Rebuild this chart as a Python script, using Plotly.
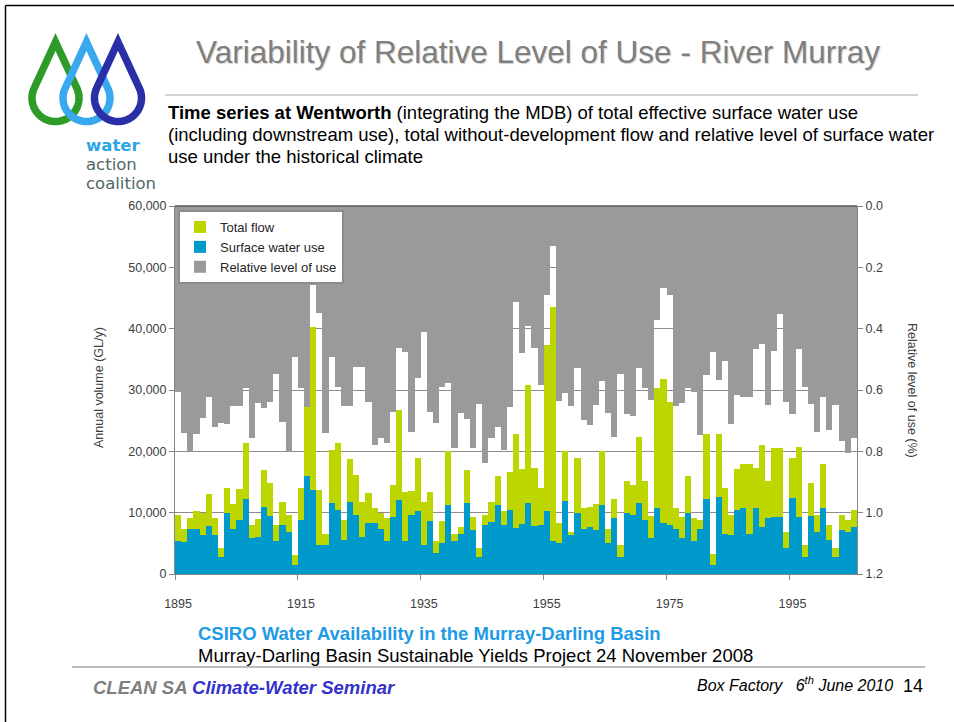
import math
import plotly.graph_objects as go

# ── Data ────────────────────────────────────────────────────────────────────

years = list(range(1895, 2006))

# Total without-development flow at Wentworth (GL/y)
total_flow = [
    9600, 7300, 9200, 10300, 9900, 13000, 9100, 4200, 14100, 11400,
    13900, 21300, 8000, 8900, 17000, 14800, 8000, 11700, 9600, 3100,
    14000, 27600, 40300, 13700, 6500, 20200, 21300, 8800, 18800, 16100,
    11800, 13200, 10700, 9900, 9100, 14500, 26700, 13400, 13500, 18900,
    11800, 13300, 5300, 8600, 20100, 6600, 7700, 17000, 9300, 4200,
    9600, 11800, 15900, 10200, 16700, 22800, 17200, 30800, 17300, 14000,
    37300, 43600, 8300, 20100, 6900, 18900, 10800, 11000, 11400, 20100,
    7300, 12300, 4700, 15100, 14500, 22400, 15100, 9500, 30300, 31800,
    28100, 10700, 9300, 15900, 9100, 8800, 22900, 3200, 22900, 14000,
    9600, 17200, 17900, 17900, 17300, 21100, 15100, 20500, 20500, 6900,
    18900, 20700, 4700, 14800, 9700, 17900, 8000, 4200, 9600, 8800,
    10400,
]

# Total effective surface water use (GL/y)
surface_use = [
    5400, 5200, 7300, 7300, 6400, 7800, 6400, 2800, 9900, 7300,
    8800, 12300, 5800, 6000, 10900, 9500, 5300, 8000, 6900, 1500,
    8800, 15900, 13700, 4700, 4700, 11500, 10400, 5500, 11800, 9700,
    6100, 8300, 8300, 7400, 5300, 9300, 12100, 5300, 9600, 10300,
    4700, 8600, 3500, 5000, 11300, 5300, 6600, 11500, 7200, 2700,
    8000, 8500, 11300, 8000, 10400, 7500, 8100, 11500, 7800, 8000,
    10300, 5300, 5000, 11900, 6300, 9900, 7400, 7700, 7200, 11300,
    5000, 9100, 2700, 9900, 9700, 11500, 8800, 5800, 10700, 8300,
    8000, 7400, 5900, 9900, 5300, 7300, 12300, 1500, 12500, 6600,
    6400, 10400, 10700, 6500, 10700, 7700, 9100, 9300, 9300, 4300,
    12400, 9300, 2700, 9500, 6900, 10800, 5500, 2700, 7100, 6800,
    7600,
]

# Relative level of surface water use (fraction, right axis, reversed)
relative_level = [
    0.605, 0.741, 0.799, 0.744, 0.690, 0.622, 0.722, 0.707, 0.712, 0.651,
    0.651, 0.595, 0.758, 0.641, 0.660, 0.640, 0.548, 0.703, 0.801, 0.491,
    0.595, 0.654, 0.258, 0.350, 0.741, 0.493, 0.589, 0.651, 0.651, 0.524,
    0.524, 0.638, 0.779, 0.755, 0.774, 0.673, 0.464, 0.475, 0.736, 0.562,
    0.410, 0.671, 0.709, 0.589, 0.578, 0.790, 0.676, 0.695, 0.790, 0.647,
    0.839, 0.758, 0.720, 0.796, 0.654, 0.312, 0.480, 0.391, 0.464, 0.584,
    0.290, 0.129, 0.636, 0.611, 0.651, 0.529, 0.698, 0.714, 0.649, 0.570,
    0.676, 0.754, 0.549, 0.678, 0.684, 0.529, 0.595, 0.633, 0.372, 0.268,
    0.290, 0.651, 0.644, 0.595, 0.605, 0.747, 0.551, 0.475, 0.567, 0.504,
    0.712, 0.616, 0.622, 0.624, 0.466, 0.450, 0.649, 0.472, 0.352, 0.640,
    0.678, 0.466, 0.589, 0.647, 0.736, 0.624, 0.730, 0.649, 0.766, 0.807,
    0.758,
]

year_labels = [1895, 1915, 1935, 1955, 1975, 1995]
volume_ticks = [0, 10000, 20000, 30000, 40000, 50000, 60000]
level_ticks = [0.0, 0.2, 0.4, 0.6, 0.8, 1.0, 1.2]

# ── Styling ─────────────────────────────────────────────────────────────────

FONT = "Arial, 'Liberation Sans', sans-serif"
LOGO_FONT = "'DejaVu Sans', sans-serif"
COLORS = {
    "flow": "#BED600",
    "use": "#0099CC",
    "level": "#9A9A9A",
    "axis": "#868686",
    "tick": "#404040",
    "rule": "#A6A6A6",
}

W, H = 954, 722
# plot area in page pixels
L, R, T, B = 175, 857, 206, 574


def fx(x):
    return (x - L) / (R - L)


def fy(y):
    return (B - y) / (B - T)


def drop_path(cx, cy, r, tip_y, n=48):
    """Teardrop outline (pixel coords) converted to paper coords."""
    phi = math.acos(r / (cy - tip_y))
    pts = [(cx, tip_y)]
    for k in range(n + 1):
        a = phi + (2 * math.pi - 2 * phi) * k / n
        pts.append((cx + r * math.sin(a), cy - r * math.cos(a)))
    return "M " + " L ".join(f"{fx(x):.4f},{fy(y):.4f}" for x, y in pts) + " Z"


fig = go.Figure()

fig.add_trace(go.Bar(
    x=years, y=total_flow, name="Total flow",
    marker=dict(color=COLORS["flow"], line=dict(width=0)),
    yaxis="y",
))
fig.add_trace(go.Bar(
    x=years, y=surface_use, name="Surface water use",
    marker=dict(color=COLORS["use"], line=dict(width=0)),
    yaxis="y",
))
fig.add_trace(go.Bar(
    x=years, y=relative_level, name="Relative level of use",
    marker=dict(color=COLORS["level"], line=dict(width=0)),
    yaxis="y2",
))

# ── Shapes: rules, frame, logo ──────────────────────────────────────────────

shapes = [
    # slide frame (left / top)
    dict(type="line", xref="paper", yref="paper", x0=fx(5.5), x1=fx(5.5), y0=fy(5.5), y1=fy(H + 5),
         line=dict(color="black", width=1.5)),
    dict(type="line", xref="paper", yref="paper", x0=fx(5.5), x1=fx(W + 5), y0=fy(5.5), y1=fy(5.5),
         line=dict(color="black", width=1.5)),
    # rule under title
    dict(type="line", xref="paper", yref="paper", x0=fx(165), x1=fx(918), y0=fy(95), y1=fy(95),
         line=dict(color=COLORS["rule"], width=1.2)),
    # footer rule
    dict(type="line", xref="paper", yref="paper", x0=fx(72), x1=fx(925), y0=fy(667), y1=fy(667),
         line=dict(color=COLORS["rule"], width=1.5)),
    # top border of the plot area
    dict(type="line", xref="paper", yref="paper", x0=0, x1=1, y0=1, y1=1,
         line=dict(color="#5A5A5A", width=1.5)),
]

for cx, col in [(55.5, "#2E9A28"), (86.5, "#38A9EE"), (118, "#2A2FA8")]:
    shapes.append(dict(
        type="path", xref="paper", yref="paper", path=drop_path(cx, 98, 23.5, 42),
        line=dict(color=col, width=7.5), fillcolor="rgba(0,0,0,0)", layer="above",
    ))

# ── Annotations ─────────────────────────────────────────────────────────────


def note(text, x, y, size, color="black", xanchor="left", family=FONT, **kw):
    return dict(text=text, x=fx(x), y=fy(y), xref="paper", yref="paper",
                xanchor=xanchor, yanchor="middle", showarrow=False,
                font=dict(size=size, color=color, family=family), **kw)


title = note("Variability of Relative Level of Use - River Murray", 538, 52, 31.5,
             color="#7F7F7F", xanchor="center")
title["font"]["shadow"] = "1px 1px 1px #D0D0D0"

annotations = [
    title,
    note("<b>Time series at Wentworth</b> (integrating the MDB) of total effective surface water use",
         166, 112, 18.5),
    note("(including downstream use), total without-development flow and relative level of surface water",
         166, 134, 18.5),
    note("use under the historical climate", 166, 156, 18.5),
    note("<b>water</b>", 84, 146, 16.5, color="#2BA6E6", family=LOGO_FONT),
    note("action", 84, 164.5, 16.5, color="#4F6866", family=LOGO_FONT),
    note("coalition", 84, 183, 16.5, color="#4F6866", family=LOGO_FONT),
    note("<b>CSIRO Water Availability in the Murray-Darling Basin</b>", 196, 633, 18.5,
         color="#1E9BE6"),
    note("Murray-Darling Basin Sustainable Yields Project 24 November 2008", 196, 655, 18.5),
    note('<b><i><span style="color:#7F7F7F">CLEAN SA</span> '
         '<span style="color:#3333CC">Climate-Water Seminar</span></i></b>', 91, 687, 18.5),
    note("<i>Box Factory   6<sup>th</sup> June 2010</i>", 895, 684, 16, xanchor="right"),
    note("14", 901, 686, 18),
    note("Annual volume (GL/y)", 99, 388, 12.5, color=COLORS["tick"], xanchor="center",
         textangle=-90),
    note("Relative level of use (%)", 912, 390, 12.5, color=COLORS["tick"], xanchor="center",
         textangle=90),
]

fig.update_layout(
    width=W, height=H,
    margin=dict(l=L, r=W - R, t=T, b=H - B),
    paper_bgcolor="white", plot_bgcolor="white",
    font=dict(family=FONT, color=COLORS["tick"]),
    barmode="overlay", bargap=0,
    showlegend=True,
    legend=dict(
        x=fx(178), y=fy(210), xanchor="left", yanchor="top",
        bgcolor="white", bordercolor="#8C8C8C", borderwidth=2,
        font=dict(size=13, color="#262626", family=FONT),
        traceorder="normal", tracegroupgap=0,
    ),
    xaxis=dict(
        range=[1894.5, 2005.5], tickvals=year_labels, ticks="",
        showline=True, linecolor=COLORS["axis"], linewidth=1,
        showgrid=False, zeroline=False,
        tickfont=dict(size=12.5, color=COLORS["tick"]), ticklabelstandoff=18,
        minor=dict(tick0=1894.5, dtick=20, ticks="outside", ticklen=5,
                   tickcolor=COLORS["axis"], showgrid=False),
    ),
    yaxis=dict(
        range=[0, 60000], tickvals=volume_ticks, tickformat=",",
        ticks="outside", ticklen=5, tickcolor=COLORS["axis"],
        showline=True, linecolor=COLORS["axis"], linewidth=1,
        showgrid=True, gridcolor="#8C8C8C", gridwidth=1, zeroline=False,
        tickfont=dict(size=12.5, color=COLORS["tick"]),
    ),
    yaxis2=dict(
        overlaying="y", side="right", range=[1.2, 0], tickvals=level_ticks,
        tickformat=".1f", ticks="outside", ticklen=5, tickcolor=COLORS["axis"],
        showline=True, linecolor=COLORS["axis"], linewidth=1,
        showgrid=False, zeroline=False,
        tickfont=dict(size=12.5, color=COLORS["tick"]),
    ),
    shapes=shapes,
    annotations=annotations,
)

# drop the browser's default body margin so the figure sits at the page origin
fig.write_html(
    "out.html",
    config={"displayModeBar": False},
    post_script="document.body.style.margin='0';",
)
